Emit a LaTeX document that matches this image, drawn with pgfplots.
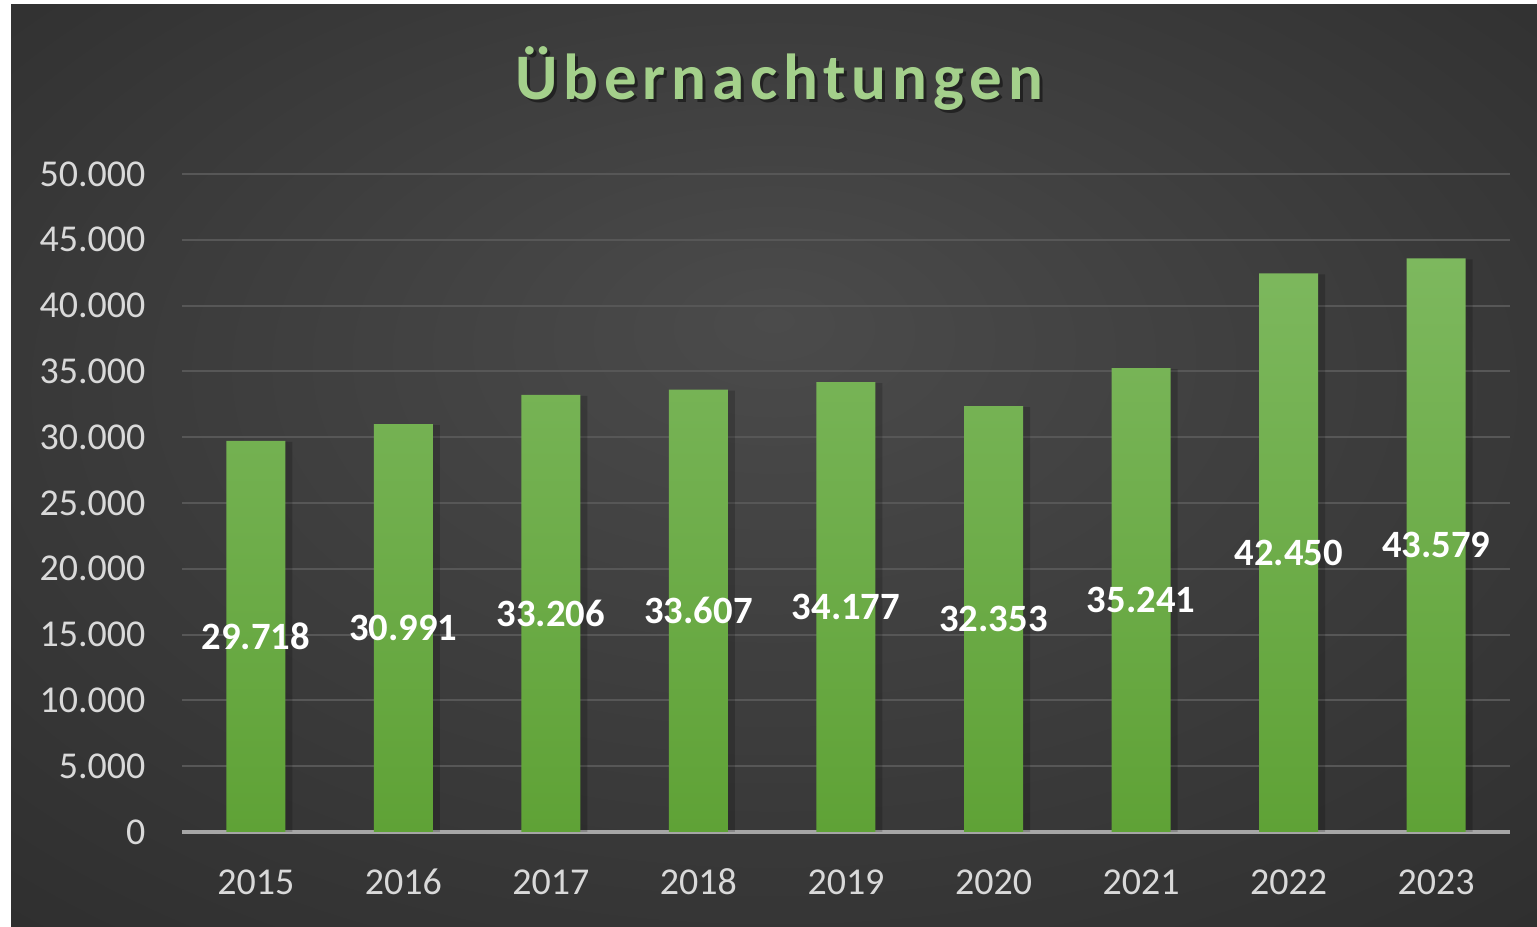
\documentclass[border=0pt]{standalone}
\usepackage{fontspec}
\setmainfont{Carlito}
\usepackage{pgfplots}
\usepackage{pgfplotstable}
\pgfplotsset{compat=1.18}

\definecolor{bgdark}{HTML}{252525}
\definecolor{bglight}{HTML}{4B4B4B}
\definecolor{gridc}{HTML}{575757}
\definecolor{axisc}{HTML}{A6A6A6}
\definecolor{tickc}{HTML}{D9D9D9}
\definecolor{bartop}{HTML}{7DB85E}
\definecolor{barbot}{HTML}{5FA236}
\definecolor{titlec}{HTML}{A4D08B}

\pgfdeclareradialshading{bgshade}{\pgfpoint{0bp}{8bp}}{%
  color(0bp)=(bglight); color(50bp)=(bgdark)}

% overnight stays per year, in thousands
\pgfplotstableread{
x  y
0  29.718
1  30.991
2  33.206
3  33.607
4  34.177
5  32.353
6  35.241
7  42.450
8  43.579
}\stays

\newcommand\titlefont{\fontsize{18.5}{22}\selectfont\bfseries\addfontfeatures{LetterSpace=9}}

\begin{document}
\begin{tikzpicture}
\useasboundingbox (0,0) rectangle (153.7mm,92.7mm);
\fill[white] (0,0) rectangle (153.7mm,92.7mm);
\shade[shading=bgshade] (1.1mm,0) rectangle (153.7mm,92.2mm);

\node[anchor=base, text=black, opacity=0.45, font=\titlefont] at (78.2mm,82.45mm) {Übernachtungen};
\node[anchor=base, text=titlec, font=\titlefont] at (77.9mm,82.7mm) {Übernachtungen};

\begin{axis}[
    at={(18.2mm,9.5mm)}, anchor=south west,
    scale only axis, width=132.8mm, height=65.8mm,
    xmin=-0.5, xmax=8.5, ymin=0, ymax=50,
    axis lines*=left,
    axis line style={-},
    x axis line style={axisc, line width=0.4mm},
    y axis line style={draw=none},
    major tick length=0pt,
    tick style={draw=none},
    ymajorgrids,
    grid style={gridc, line width=0.2mm},
    xtick={0,...,8},
    xticklabels={2015,2016,2017,2018,2019,2020,2021,2022,2023},
    ytick={0,5,10,15,20,25,30,35,40,45,50},
    yticklabels={0,5.000,10.000,15.000,20.000,25.000,30.000,35.000,40.000,45.000,50.000},
    /pgf/number format/assume math mode=true,
    /pgf/number format/.cd, fixed, fixed zerofill, precision=3, /pgfplots/.cd,
    xticklabel style={anchor=center, yshift=-5mm, text=tickc, font=\fontsize{10.8}{13}\selectfont},
    yticklabel style={anchor=east, inner sep=0pt, xshift=-3.6mm, text=tickc, font=\fontsize{10.8}{13}\selectfont},
]
\addplot[ybar, bar width=5.9mm, bar shift=0pt, draw=none,
    top color=bartop, bottom color=barbot,
    preaction={top color=black, bottom color=black, fill opacity=0.18,
        transform canvas={xshift=0.7mm, yshift=-0.1mm}}]
    table[x=x, y=y] {\stays};
% value labels at mid-height of each bar
\addplot[draw=none, mark=none, nodes near coords, point meta=explicit,
    every node near coord/.append style={anchor=center, text=white,
        font=\fontsize{11}{13}\selectfont\bfseries}]
    table[x=x, y expr=\thisrow{y}/2, meta=y] {\stays};
\end{axis}
\end{tikzpicture}
\end{document}
